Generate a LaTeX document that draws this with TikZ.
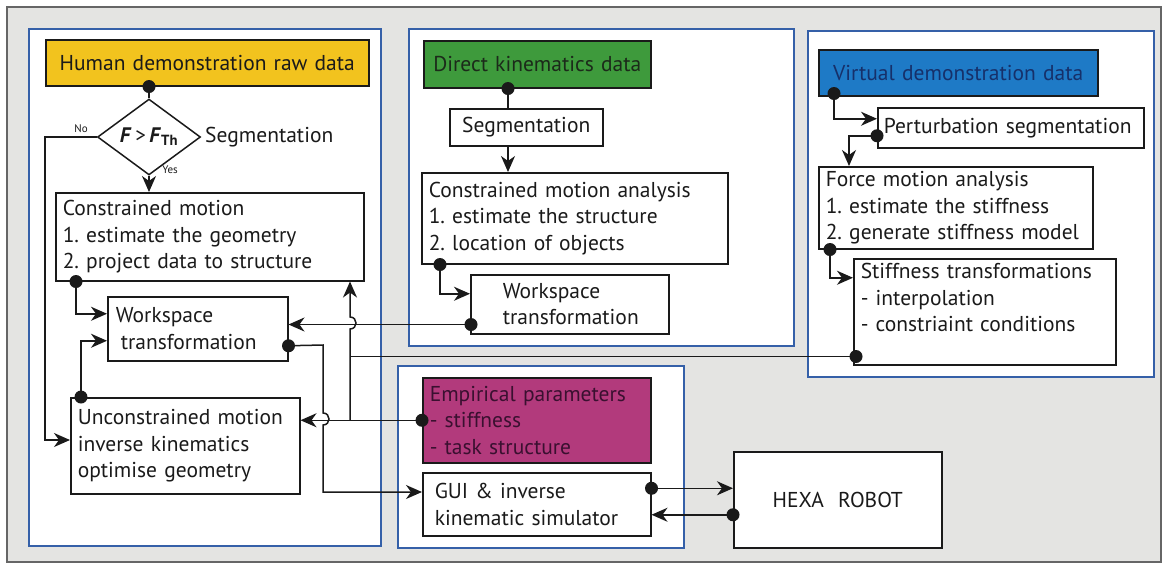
\documentclass[tikz,border=0pt]{standalone}
\usepackage{fontspec}
\setmainfont{PT Sans}
\usetikzlibrary{arrows.meta,shapes.geometric,calc}
\definecolor{bg}{HTML}{E4E4E2}
\definecolor{panelblue}{HTML}{3560A8}
\definecolor{txt}{HTML}{1A1A1A}
\definecolor{yel}{HTML}{F2C31E}
\definecolor{grn}{HTML}{3E9A3C}
\definecolor{grntxt}{HTML}{1C2A1A}
\definecolor{blu}{HTML}{1E7AC6}
\definecolor{blutxt}{HTML}{16306A}
\definecolor{mag}{HTML}{B23A7C}
\definecolor{magtxt}{HTML}{3A1030}
\newcommand\fs{\fontsize{21.5}{26.5}\selectfont}
\begin{document}
\begin{tikzpicture}[x=1pt,y=-1pt,
  panel/.style={draw=panelblue, line width=2.2pt, fill=white, inner sep=0pt, anchor=north west},
  box/.style={draw=txt, line width=1.5pt, fill=white, inner xsep=7pt, inner ysep=0pt,
              font=\fs, text=txt, align=left, anchor=north west},
  cbox/.style={box, align=center},
  conn/.style={draw=txt, line width=1.5pt},
  arr/.style={conn, -{Stealth[length=16pt,width=14pt,inset=5pt]}},
  dotc/.style={fill=txt},
  small/.style={font=\fontsize{11}{12}\selectfont, text=txt, inner sep=0pt}
]
\useasboundingbox (0,0) rectangle (1167,566);
\fill[white] (0,0) rectangle (1167,566);
\draw[fill=bg, draw=black!60, line width=1.6pt] (7,7) rectangle (1161,562);

% panels
\node[panel, minimum width=352, minimum height=517] (p1) at (28,28) {};
\node[panel, minimum width=385, minimum height=317] (p2) at (408,28) {};
\node[panel, minimum width=346, minimum height=346] (p3) at (807,30) {};
\node[panel, minimum width=286, minimum height=182] (p4) at (397,365) {};

% panel 1
\node[cbox, fill=yel, minimum width=323, minimum height=46, text width=309] (hum) at (45,39) {Human demonstration raw data};
\node[diamond, draw=txt, line width=1.5pt, fill=white, minimum width=103, minimum height=45, inner sep=0pt, text=txt,
      font=\fontsize{21}{22}\selectfont] (dia) at (149,137) {\textbf{\textit{F}}\,>\,\textbf{\textit{F}}\textsubscript{\textbf{Th}}};
\node[anchor=west, font=\fs, text=txt, inner sep=0pt] (seglab) at (205,137) {Segmentation};
\node[small] (nolab) at (81,129) {No};
\node[small] (yeslab) at (170,170) {Yes};
\node[box, minimum width=308, minimum height=88, text width=294] (cm) at (55,192)
  {Constrained motion\\1.\ estimate the geometry\\2.\ project data to structure};
\node[box, inner xsep=8pt, minimum width=180, minimum height=64, text width=164] (ws1) at (107,296)
  {Workspace\\\hspace*{5pt}transformation};
\node[box, minimum width=229, minimum height=96, text width=215] (um) at (70,397)
  {Unconstrained motion\\inverse kinematics\\optimise geometry};

% panel 2
\node[cbox, fill=grn, text=grntxt, minimum width=227, minimum height=47, text width=213] (dk) at (423,40) {Direct kinematics data};
\node[cbox, minimum width=153, minimum height=37, text width=139] (seg2) at (449,108) {Segmentation};
\node[box, minimum width=306, minimum height=91, text width=292] (cma) at (421,172)
  {Constrained motion analysis\\1.\ estimate the structure\\2.\ location of objects};
\node[box, inner xsep=32pt, minimum width=198, minimum height=59, text width=134] (ws2) at (470,274)
  {Workspace\\transformation};

% panel 3
\node[cbox, fill=blu, text=blutxt, minimum width=279, minimum height=46, text width=265] (vd) at (818,49) {Virtual demonstration data};
\node[box, inner xsep=6pt, minimum width=266, minimum height=40, text width=254] (ps) at (877,107) {Perturbation segmentation};
\node[box, minimum width=274, minimum height=82, text width=260] (fm) at (818,166)
  {Force motion analysis\\1.\ estimate the stiffness\\2.\ generate stiffness model};
\node[box, minimum width=262, minimum height=106, text width=248] (st) at (853,258)
  {Stiffness transformations\\- interpolation\\- constriaint conditions\\[2pt]\mbox{}};

% panel 4
\node[box, fill=mag, text=magtxt, minimum width=228, minimum height=85, text width=214] (ep) at (422,377)
  {Empirical parameters\\- stiffness\\- task structure};
\node[box, inner xsep=12pt, minimum width=228, minimum height=63, text width=204] (gui) at (422,472)
  {GUI \& inverse\\kinematic simulator};
\node[cbox, minimum width=208, minimum height=96, text width=194] (hexa) at (733,451) {HEXA\ \ ROBOT};

% ---------- connectors
% panel 1
\coordinate (d1) at (dia.north |- hum.south);
\draw[conn] (d1) -- (dia.north);
\draw[arr] (dia.south) -- (dia.south |- cm.north);
\coordinate (nox) at (45,0);
\draw[arr] (dia.west) -- (nox |- dia.west) -- (nox |- 0,440) -- (um.west |- 0,440);
\coordinate (d2) at ($(cm.south west)+(21,0)$);
\draw[arr] (d2) |- ($(ws1.west)+(0,-15)$);
\coordinate (d3) at ($(um.north west)+(11,0)$);
\draw[arr] (d3) |- ($(ws1.west)+(0,12)$);
\coordinate (d4) at ($(ws1.east)+(0,17)$);
\draw[arr] (d4) -- (323,345) -- (323,413) .. controls (331,413) and (331,425) .. (323,425) -- (323,492) -- (gui.west |- 0,492);
\draw[arr] (ep.west) -- (um.east |- ep.west);
\coordinate (vx) at (350,0);
\draw[arr] (vx |- ep.west) -- (350,329) .. controls (358,329) and (358,317) .. (350,317) -- (vx |- cm.south);
\coordinate (d5) at ($(st.south west)+(3,-9)$);
\draw[conn] (d5) -- (vx |- d5);
\coordinate (d6) at ($(ws2.south west)+(1,-10)$);
\draw[arr] (d6) -- (ws1.east |- d6);

% panel 2
\coordinate (d7) at ($(dk.south west)+(85,0)$);
\draw[conn] (d7) -- (d7 |- seg2.north);
\draw[arr] (d7 |- seg2.south) -- (d7 |- cma.north);
\coordinate (d8) at ($(cma.south west)+(19,0)$);
\draw[arr] (d8) |- ($(ws2.west)+(0,-10.5)$);

% panel 3
\coordinate (d9) at ($(vd.south west)+(16,-3)$);
\draw[arr] (d9) |- ($(ps.west)+(0,-9)$);
\coordinate (d10) at ($(ps.west)+(0,8)$);
\coordinate (t10) at ($(d10)+(-28,0)$);
\draw[arr] (d10) -- (t10) -- (t10 |- fm.north);
\coordinate (d11) at ($(fm.south west)+(12,0)$);
\draw[arr] (d11) |- ($(st.west)+(0,-34)$);

% panel 4
\coordinate (d12) at ($(gui.east)+(0,-16)$);
\draw[arr] (d12) -- (hexa.west |- d12);
\coordinate (d13) at ($(hexa.west)+(0,15)$);
\draw[arr] (d13) -- (gui.east |- d13);

% dots
\foreach \d in {d1,d2,d3,d4,d5,d6,d7,d8,d9,d10,d11,d12,d13}
  \fill[dotc] (\d) circle (6.5);
\fill[dotc] (ep.west) circle (6.5);
\end{tikzpicture}
\end{document}
